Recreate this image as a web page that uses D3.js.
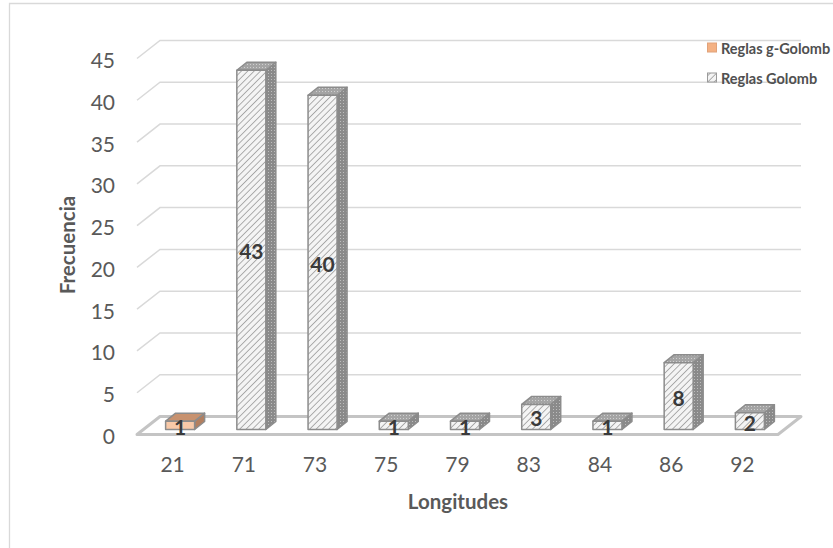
<!DOCTYPE html>
<html>
<head>
<meta charset="utf-8">
<script src="https://cdn.jsdelivr.net/npm/d3@7"></script>
<style>
  html, body { margin: 0; padding: 0; background: #ffffff; }
  svg { display: block; font-family: Lato, "Open Sans", sans-serif; }
</style>
</head>
<body>
<script>
// Lengths (categories) and frequencies of each ruler family
const categories = ["21", "71", "73", "75", "79", "83", "84", "86", "92"];
const gGolombValues = [1, null, null, null, null, null, null, null, null];
const golombValues  = [null, 43, 40, 1, 1, 3, 1, 8, 2];
const seriesNames = ["Reglas g-Golomb", "Reglas Golomb"];
const yTicks = [0, 5, 10, 15, 20, 25, 30, 35, 40, 45];
const chartTitle = "Frecuencia de longitudes de reglas g-Golomb y Golomb para [0, 1, 3, 7, 12, 20, 30, 44, 65, 80]";

const W = 833, H = 548;
const svg = d3.select("body").append("svg").attr("width", W).attr("height", H);

// ---- patterns --------------------------------------------------------------
const defs = svg.append("defs");
const hatch = defs.append("pattern").attr("id", "hatch")
  .attr("patternUnits", "userSpaceOnUse").attr("width", 4.5).attr("height", 4.5)
  .attr("patternTransform", "rotate(45)");
hatch.append("rect").attr("width", 4.5).attr("height", 4.5).attr("fill", "#f4f4f4");
hatch.append("line").attr("x1", 0).attr("y1", 0).attr("x2", 0).attr("y2", 4.5)
  .attr("stroke", "#9c9c9c").attr("stroke-width", 1.6);

const dotsTop = defs.append("pattern").attr("id", "dotsTop")
  .attr("patternUnits", "userSpaceOnUse").attr("width", 3).attr("height", 3);
dotsTop.append("rect").attr("width", 3).attr("height", 3).attr("fill", "#a4a4a4");
dotsTop.append("rect").attr("x", 1).attr("y", 1).attr("width", 1).attr("height", 1).attr("fill", "#cfcfcf");

const dotsSide = defs.append("pattern").attr("id", "dotsSide")
  .attr("patternUnits", "userSpaceOnUse").attr("width", 3).attr("height", 3);
dotsSide.append("rect").attr("width", 3).attr("height", 3).attr("fill", "#8a8a8a");
dotsSide.append("rect").attr("x", 1).attr("y", 1).attr("width", 1).attr("height", 1).attr("fill", "#bdbdbd");

const styles = [
  { front: "#f8c9a8", top: "#c8926f", side: "#b37f5f" },            // g-Golomb
  { front: "url(#hatch)", top: "url(#dotsTop)", side: "url(#dotsSide)" } // Golomb
];

// ---- frame and (clipped) title --------------------------------------------
svg.append("path").attr("d", `M9.5,${H} V3.5 H${W}`)
  .attr("fill", "none").attr("stroke", "#d9d9d9").attr("stroke-width", 1.3);

svg.append("text").attr("x", 20).attr("y", -4)
  .attr("font-size", 19).attr("font-weight", "bold").attr("fill", "#000000")
  .text(chartTitle);

// ---- 3D geometry -----------------------------------------------------------
const floorFrontY = 434.5, floorBackY = 416.5;
const depthDX = 23;
const x = d3.scaleBand().domain(categories).range([137, 778]);
const yLen = d3.scaleLinear().domain([0, 45]).range([0, 376]);

// back wall gridlines and left wall diagonals
const grid = svg.append("g").attr("stroke", "#d9d9d9").attr("stroke-width", 1.5).attr("fill", "none");
yTicks.filter(v => v > 0).forEach(v => {
  const yb = floorBackY - yLen(v), yf = floorFrontY - yLen(v);
  grid.append("path").attr("d", `M137,${yf} L160,${yb} H801`);
});

// floor
svg.append("path")
  .attr("d", `M137,${floorFrontY} L${137 + depthDX},${floorBackY} L${778 + depthDX},${floorBackY} L778,${floorFrontY} Z`)
  .attr("fill", "#ffffff").attr("stroke", "#c4c4c4").attr("stroke-width", 3)
  .attr("stroke-linejoin", "round");

// y tick labels
svg.append("g").selectAll("text").data(yTicks).join("text")
  .attr("x", 115).attr("y", v => floorFrontY + 1 - yLen(v))
  .attr("text-anchor", "end").attr("dominant-baseline", "central")
  .attr("font-size", 21).attr("fill", "#595959")
  .text(v => v);

// x tick labels
svg.append("g").selectAll("text").data(categories).join("text")
  .attr("x", d => x(d) + x.bandwidth() / 2).attr("y", 472)
  .attr("text-anchor", "middle")
  .attr("font-size", 21).attr("fill", "#595959")
  .text(d => d);

// ---- bars -----------------------------------------------------------------
const barW = 29, bdx = 10, bdy = -8, barBottom = 429.5;
const bars = [];
categories.forEach((c, i) => {
  if (gGolombValues[i] != null) bars.push({ c, v: gGolombValues[i], s: 0 });
  if (golombValues[i] != null) bars.push({ c, v: golombValues[i], s: 1 });
});

const barG = svg.append("g").attr("stroke", "#8c8c8c").attr("stroke-width", 1.5)
  .attr("stroke-linejoin", "round");
bars.forEach(b => {
  const L = x(b.c) + x.bandwidth() / 2 - 7;
  const R = L + barW;
  const top = barBottom - yLen(b.v);
  const st = styles[b.s];
  barG.append("path")
    .attr("d", `M${R},${top} L${R + bdx},${top + bdy} L${R + bdx},${barBottom + bdy} L${R},${barBottom} Z`)
    .attr("fill", st.side);
  barG.append("path")
    .attr("d", `M${L},${top} L${L + bdx},${top + bdy} L${R + bdx},${top + bdy} L${R},${top} Z`)
    .attr("fill", st.top);
  barG.append("rect").attr("x", L).attr("y", top).attr("width", barW).attr("height", barBottom - top)
    .attr("fill", st.front);
  svg.append("text")
    .attr("x", L + barW / 2).attr("y", (top + barBottom) / 2 + 1)
    .attr("text-anchor", "middle").attr("dominant-baseline", "central")
    .attr("font-size", 21).attr("font-weight", "bold").attr("fill", "#3a3a3a")
    .text(b.v);
});

// ---- axis titles ------------------------------------------------------------
svg.append("text")
  .attr("transform", "translate(75,245) rotate(-90)")
  .attr("text-anchor", "middle")
  .attr("font-size", 20.5).attr("font-weight", "bold").attr("fill", "#595959")
  .text("Frecuencia");

svg.append("text").attr("x", 458).attr("y", 509)
  .attr("text-anchor", "middle")
  .attr("font-size", 20.5).attr("font-weight", "bold").attr("fill", "#595959")
  .text("Longitudes");

// ---- legend ----------------------------------------------------------------
const legend = svg.append("g");
seriesNames.forEach((name, i) => {
  const cy = 48 + i * 30;
  legend.append("rect").attr("x", 707.5).attr("y", cy - 5).attr("width", 9).attr("height", 9)
    .attr("fill", i === 0 ? "#f4b183" : "url(#hatch)")
    .attr("stroke", i === 0 ? "#e0a27a" : "#9a9a9a").attr("stroke-width", 1);
  legend.append("text").attr("x", 721).attr("y", cy)
    .attr("dominant-baseline", "central")
    .attr("font-size", 14.5).attr("font-weight", "bold").attr("fill", "#505050")
    .text(name);
});
</script>
</body>
</html>
